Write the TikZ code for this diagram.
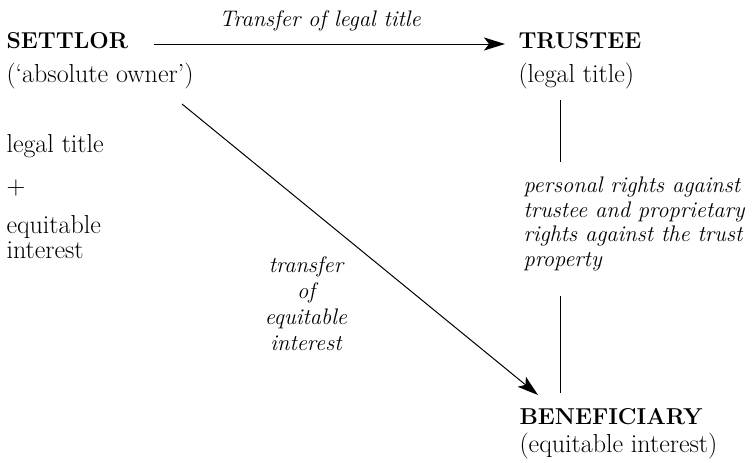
\documentclass[tikz,border=0pt]{standalone}
\usetikzlibrary{arrows.meta}

\newlength{\du}
\setlength{\du}{1pt}

\tikzset{
  every node/.style={inner sep=0pt, font=\fontsize{26}{30}\selectfont},
  partyname/.style={font=\fontsize{23}{28}\selectfont\bfseries},
  slanted/.style={font=\fontsize{22.5}{24.5}\selectfont\itshape},
  linkarrow/.style={-{Stealth[length=21pt,width=13pt,inset=5pt]}},
}

\begin{document}
\begin{tikzpicture}
\definecolor{dialinecolor}{rgb}{0.000000, 0.000000, 0.000000}
\pgfsetstrokecolor{dialinecolor}
\pgfsetlinewidth{1.000000\du}
\useasboundingbox (0\du,0\du) rectangle (755\du,-463\du);
% setfont left to latex
\node[partyname, anchor=base west] (settlor) at (6\du,-48\du){SETTLOR};
\node[anchor=base west] (settlorsub) at (6\du,-82\du){(`absolute owner')};
% setfont left to latex
\node[anchor=base west] (legaltitle) at (6\du,-152\du){legal title};
\node[anchor=base west] (plus) at (6\du,-194\du){+};
\node[anchor=north west, align=left, font=\fontsize{26}{25}\selectfont] (equitable) at (6\du,-215\du){equitable\\interest};
% setfont left to latex
\node[slanted, anchor=base] (legalxfer) at (320\du,-27\du){Transfer of legal title};
\node[partyname, anchor=base west] (trustee) at (518\du,-48\du){TRUSTEE};
\node[anchor=base west] (trusteesub) at (518\du,-82\du){(legal title)};
% setfont left to latex
\node[slanted, anchor=north west, align=left] (rights) at (523\du,-176.4\du){personal rights against\\trustee and proprietary\\rights against the trust\\property};
\node[slanted, anchor=north, align=center, font=\fontsize{22.5}{26}\selectfont\itshape] (eqxfer) at (306\du,-256.4\du){transfer\\of\\equitable\\interest};
% setfont left to latex
\node[partyname, anchor=base west] (beneficiary) at (519\du,-424\du){BENEFICIARY};
\node[anchor=base west] (beneficiarysub) at (519\du,-452\du){(equitable interest)};
% was here!!!
\draw[linkarrow] ([shift={(148pt,4pt)}]settlor.base west) -- ([shift={(-13pt,4pt)}]trustee.base west);
\draw[linkarrow] ([shift={(176pt,-22pt)}]settlorsub.base west) -- ([shift={(19pt,29pt)}]beneficiary.base west);
\draw ([shift={(42pt,-18pt)}]trusteesub.base west) -- ([shift={(37pt,14pt)}]rights.north west);
\draw ([shift={(37pt,-25pt)}]rights.south west) -- ([shift={(41pt,31pt)}]beneficiary.base west);
\end{tikzpicture}
\end{document}
